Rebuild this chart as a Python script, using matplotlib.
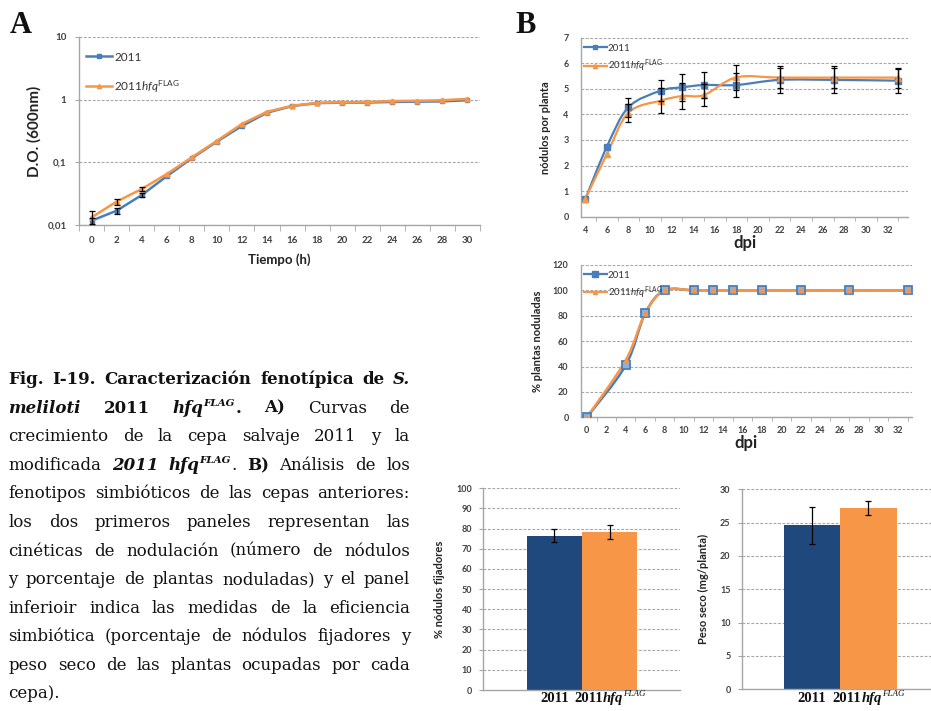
import numpy as np
import matplotlib
matplotlib.use('Agg')
import matplotlib.pyplot as plt
from matplotlib.path import Path
from matplotlib.patches import PathPatch
from matplotlib.lines import Line2D
from matplotlib.ticker import FixedLocator, NullLocator
from matplotlib.transforms import IdentityTransform

# ---------------- data ----------------
hours = [0, 2, 4, 6, 8, 10, 12, 14, 16, 18, 20, 22, 24, 26, 28, 30]
od_2011 = [0.0117, 0.0169, 0.030, 0.060, 0.116, 0.214, 0.38, 0.62, 0.79, 0.88,
           0.90, 0.90, 0.92, 0.93, 0.94, 0.98]
od_hfq = [0.0132, 0.0236, 0.0375, 0.065, 0.12, 0.22, 0.41, 0.64, 0.80, 0.89,
          0.91, 0.92, 0.95, 0.96, 0.98, 1.03]
od_err_2011 = [0.0012, 0.0018, 0.002, 0, 0, 0, 0, 0, 0, 0, 0, 0, 0, 0, 0, 0]
od_err_hfq = [0.0035, 0.0025, 0.003, 0, 0, 0, 0, 0, 0, 0, 0, 0, 0, 0, 0, 0]

dpi_nod = [4, 6, 8, 11, 13, 15, 18, 22, 27, 33]
nod_2011 = [0.69, 2.74, 4.28, 4.93, 5.06, 5.15, 5.15, 5.35, 5.35, 5.32]
nod_hfq = [0.69, 2.45, 4.07, 4.54, 4.72, 4.76, 5.45, 5.44, 5.44, 5.44]
nod_err_2011 = [0, 0, 0.37, 0.42, 0.52, 0.50, 0.46, 0.53, 0.53, 0.47]
nod_err_hfq = [0, 0, 0.35, 0.48, 0.51, 0.43, 0.48, 0.39, 0.39, 0.39]

dpi_pct = [0, 4, 6, 8, 11, 13, 15, 18, 22, 27, 33]
pct_2011 = [0, 41, 82, 100, 100, 100, 100, 100, 100, 100, 100]
pct_hfq = [0, 45, 82, 100, 100, 100, 100, 100, 100, 100, 100]

strain_labels = ['2011', '2011hfqFLAG']
fix_pct = [76.5, 78.3]
fix_err = [3.3, 3.6]
dry_wt = [24.6, 27.2]
dry_err = [2.8, 1.0]

# ---------------- style ----------------
BLUE = '#4A7EBB'
ORANGE = '#F79646'
NAVY = '#1F497D'
GRID = '#A6A6A6'
TICKC = '#404040'
SANS = 'Lato'
SERIF = 'Liberation Serif'
CAPSERIF = 'DejaVu Serif'

plt.rcParams['font.family'] = [SANS, 'DejaVu Sans']
plt.rcParams['mathtext.fontset'] = 'custom'
plt.rcParams['mathtext.rm'] = 'Lato'
plt.rcParams['mathtext.it'] = 'Lato:italic'
plt.rcParams['mathtext.bf'] = 'Lato:bold'

W, H = 931, 711
fig = plt.figure(figsize=(W / 100, H / 100), dpi=100)
fig.patch.set_facecolor('white')


def add_axes_px(left, top, right, bottom):
    return fig.add_axes([left / W, (H - bottom) / H, (right - left) / W, (bottom - top) / H])


def style_axes(ax, fs=6.5):
    for s in ['top', 'right']:
        ax.spines[s].set_visible(False)
    for s in ['left', 'bottom']:
        ax.spines[s].set_color(GRID)
        ax.spines[s].set_linewidth(1.0)
    ax.tick_params(axis='both', which='both', colors=GRID, labelcolor=TICKC, labelsize=fs)
    for lab in ax.get_xticklabels() + ax.get_yticklabels():
        lab.set_fontweight('bold')
    ax.yaxis.grid(True, which='major', color=GRID, linestyle=(0, (2.5, 1.5)), linewidth=0.8)
    ax.set_axisbelow(True)


def smooth_path(x, y):
    pts = np.column_stack([x, y]).astype(float)
    n = len(pts)
    verts = [pts[0]]
    codes = [Path.MOVETO]
    for i in range(n - 1):
        p0 = pts[i - 1] if i > 0 else pts[i]
        p1 = pts[i]
        p2 = pts[i + 1]
        p3 = pts[i + 2] if i + 2 < n else pts[i + 1]
        c1 = p1 + (p2 - p0) / 6.0
        c2 = p2 - (p3 - p1) / 6.0
        verts += [c1, c2, p2]
        codes += [Path.CURVE4] * 3
    return Path(verts, codes)


def draw_err(ax, x, y, e, **kw):
    x = np.asarray(x, float); y = np.asarray(y, float); e = np.asarray(e, float)
    m = e > 0
    ax.errorbar(x[m], y[m], yerr=e[m], fmt='none', ecolor='black', elinewidth=0.9,
                capsize=2.5, capthick=0.9, **kw)


hfq_label = r'2011$\mathit{hfq}^{\mathrm{FLAG}}$'

# ---------------- Panel A ----------------
axA = add_axes_px(79, 37, 480, 225)
axA.set_yscale('log')
axA.set_ylim(0.01, 10)
axA.set_xlim(-1, 31)
axA.yaxis.set_major_locator(FixedLocator([0.01, 0.1, 1, 10]))
axA.yaxis.set_minor_locator(NullLocator())
axA.set_yticklabels(['0,01', '0,1', '1', '10'])
axA.set_xticks(hours)
axA.set_xticklabels([str(h) for h in hours])
axA.xaxis.set_minor_locator(FixedLocator(np.arange(-1, 32, 2)))
style_axes(axA, fs=7)
axA.tick_params(axis='x', which='major', length=0, pad=8)
axA.tick_params(axis='x', which='minor', length=4, direction='out')
axA.tick_params(axis='y', which='major', length=3, pad=6)
axA.plot(hours, od_2011, color=BLUE, lw=1.8, marker='s', ms=3.5, mfc=BLUE, mec=BLUE, zorder=3)
axA.plot(hours, od_hfq, color=ORANGE, lw=1.8, marker='^', ms=3.5, mfc=ORANGE, mec=ORANGE, zorder=4)
draw_err(axA, hours, od_2011, od_err_2011, zorder=5)
draw_err(axA, hours, od_hfq, od_err_hfq, zorder=5)
axA.set_ylabel('D.O. (600nm)', fontsize=11, fontweight='bold', color='#222222', labelpad=4)
axA.set_xlabel('Tiempo (h)', fontsize=9.5, fontweight='bold', color='#222222', labelpad=6)
hA = [Line2D([], [], color=BLUE, lw=1.8, marker='s', ms=3),
      Line2D([], [], color=ORANGE, lw=1.8, marker='^', ms=3)]
legA = axA.legend(hA, ['2011', hfq_label], loc='upper left', bbox_to_anchor=(0.0, 0.96),
                  frameon=False, fontsize=8.5, handlelength=2.2, labelspacing=1.3,
                  handletextpad=0.2, borderaxespad=0.2)
for t in legA.get_texts():
    t.set_color('#333333')

# ---------------- Panel B top ----------------
axB1 = add_axes_px(581, 37.7, 908, 216.7)
axB1.set_xlim(3.6, 33.9)
axB1.set_ylim(0, 7)
axB1.set_yticks(range(0, 8))
axB1.set_xticks(range(4, 33, 2))
axB1.xaxis.set_minor_locator(FixedLocator(np.arange(5, 34, 2)))
style_axes(axB1, fs=6.5)
axB1.tick_params(axis='x', which='major', length=0, pad=7)
axB1.tick_params(axis='x', which='minor', length=3, direction='out')
axB1.tick_params(axis='y', length=0, pad=9)
axB1.add_patch(PathPatch(smooth_path(dpi_nod, nod_2011), fill=False, edgecolor=BLUE, lw=1.6, zorder=3))
axB1.add_patch(PathPatch(smooth_path(dpi_nod, nod_hfq), fill=False, edgecolor=ORANGE, lw=1.6, zorder=4))
axB1.plot(dpi_nod, nod_2011, ls='none', marker='s', ms=4, mfc=BLUE, mec=BLUE, zorder=5)
axB1.plot(dpi_nod, nod_hfq, ls='none', marker='^', ms=4, mfc=ORANGE, mec=ORANGE, zorder=6)
draw_err(axB1, dpi_nod, nod_2011, nod_err_2011, zorder=7)
draw_err(axB1, dpi_nod, nod_hfq, nod_err_hfq, zorder=7)
axB1.set_ylabel('nódulos por planta', fontsize=8, fontweight='bold', color='#222222', labelpad=9)
axB1.set_xlabel('dpi', fontsize=12, fontweight='bold', color='#222222', labelpad=0)
hB = [Line2D([], [], color=BLUE, lw=1.6, marker='s', ms=3),
      Line2D([], [], color=ORANGE, lw=1.6, marker='^', ms=3)]
legB1 = axB1.legend(hB, ['2011', hfq_label], loc='upper left', bbox_to_anchor=(-0.01, 1.0),
                    frameon=False, fontsize=7, handlelength=2.4, labelspacing=0.55,
                    handletextpad=0.1, borderaxespad=0.2)
for t in legB1.get_texts():
    t.set_color('#333333')

# ---------------- Panel B middle ----------------
axB2 = add_axes_px(581, 265, 911.7, 417.3)
axB2.set_xlim(-0.6, 33.4)
axB2.set_ylim(0, 120)
axB2.set_yticks(range(0, 121, 20))
axB2.set_xticks(range(0, 33, 2))
axB2.xaxis.set_minor_locator(FixedLocator(np.arange(1, 34, 2)))
style_axes(axB2, fs=6.5)
axB2.tick_params(axis='x', which='major', length=0, pad=6)
axB2.tick_params(axis='x', which='minor', length=3, direction='out')
axB2.tick_params(axis='y', length=0, pad=9)
axB2.add_patch(PathPatch(smooth_path(dpi_pct, pct_2011), fill=False, edgecolor=BLUE, lw=1.8, zorder=3))
axB2.add_patch(PathPatch(smooth_path(dpi_pct, pct_hfq), fill=False, edgecolor=ORANGE, lw=1.8, zorder=4))
axB2.plot(dpi_pct, pct_2011, ls='none', marker='s', ms=6, mfc='#8DB0DC', mec=BLUE, mew=1.3, zorder=5)
axB2.plot(dpi_pct, pct_hfq, ls='none', marker='^', ms=3.5, mfc=ORANGE, mec=ORANGE, zorder=6)
axB2.set_ylabel('% plantas noduladas', fontsize=8, fontweight='bold', color='#222222', labelpad=7)
axB2.set_xlabel('dpi', fontsize=12, fontweight='bold', color='#222222', labelpad=0)
hB2 = [Line2D([], [], color=BLUE, lw=1.6, marker='s', ms=4.5),
       Line2D([], [], color=ORANGE, lw=1.6, marker='^', ms=3)]
legB2 = axB2.legend(hB2, ['2011', hfq_label], loc='upper left', bbox_to_anchor=(-0.01, 1.0),
                    frameon=False, fontsize=7, handlelength=2.4, labelspacing=0.45,
                    handletextpad=0.1, borderaxespad=0.2)
for t in legB2.get_texts():
    t.set_color('#333333')

# ---------------- Bar charts ----------------
xb = [0, 1]
axC = add_axes_px(483.3, 488.3, 680, 690)
axC.set_xlim(-1.28, 2.27)
axC.set_ylim(0, 100)
axC.set_yticks(range(0, 101, 10))
axC.set_xticks(xb)
axC.set_xticklabels(['', ''])
style_axes(axC, fs=6.5)
axC.tick_params(axis='x', length=0)
axC.tick_params(axis='y', length=3, pad=5)
axC.bar(xb, fix_pct, width=1.0, color=[NAVY, ORANGE], zorder=2)
axC.errorbar(xb, fix_pct, yerr=fix_err, fmt='none', ecolor='black', elinewidth=0.9,
             capsize=2.5, capthick=0.9, zorder=3)
axC.set_ylabel('% nódulos fijadores', fontsize=8, fontweight='bold', color='#222222', labelpad=8)

axD = add_axes_px(741.7, 489.3, 931, 689.3)
axD.set_xlim(-1.25, 2.11)
axD.set_ylim(0, 30)
axD.set_yticks(range(0, 31, 5))
axD.set_xticks(xb)
axD.set_xticklabels(['', ''])
style_axes(axD, fs=6.5)
axD.tick_params(axis='x', length=0)
axD.tick_params(axis='y', length=3, pad=5)
axD.bar(xb, dry_wt, width=1.0, color=[NAVY, ORANGE], zorder=2)
axD.errorbar(xb, dry_wt, yerr=dry_err, fmt='none', ecolor='black', elinewidth=0.9,
             capsize=2.5, capthick=0.9, zorder=3)
axD.set_ylabel('Peso seco (mg/planta)', fontsize=8, fontweight='bold', color='#222222', labelpad=8)

# ---------------- rich text helpers ----------------
renderer = fig.canvas.get_renderer()


def make_runs(runs, size, family=SERIF):
    arts = []
    for (txt, weight, style, sup) in runs:
        fs = size * 0.62 if sup else size
        t = fig.text(0, 0, txt, fontsize=fs, fontweight=weight, fontstyle=style,
                     family=family, transform=IdentityTransform(), va='baseline',
                     ha='left', color='#111111')
        w = t.get_window_extent(renderer).width
        arts.append((t, w, sup))
    return arts


def place_runs(arts, x, y_base, size):
    for t, w, sup in arts:
        dy = size * 0.42 * 100 / 72 if sup else 0
        t.set_position((x, y_base + dy))
        x += w
    return x


def centered_label(ax, xd, runs, y_top_px, size):
    arts = make_runs(runs, size)
    total = sum(a[1] for a in arts)
    xc = ax.transData.transform((xd, 0))[0]
    place_runs(arts, xc - total / 2, H - y_top_px, size)


# bar chart category labels (rich text: italic gene name + superscript)
lab1 = [('2011', 'bold', 'normal', False)]
lab2 = [('2011', 'bold', 'normal', False), ('hfq', 'bold', 'italic', False),
        ('FLAG', 'normal', 'italic', True)]
for ax in (axC, axD):
    centered_label(ax, xb[0], lab1, 702, 10.5)
    centered_label(ax, xb[1], lab2, 702, 10.5)

# panel letters
fig.text(10 / W, (H - 33) / H, 'A', fontsize=22, fontweight='bold', family=SERIF, color='#111111')
fig.text(515 / W, (H - 33) / H, 'B', fontsize=22, fontweight='bold', family=SERIF, color='#111111')

# ---------------- caption (justified) ----------------
B, I, R = 'bold', 'italic', 'normal'


def words(s, weight=R, style=R):
    return [[(w, weight, style, False)] for w in s.split()]


cap_lines = [
    words('Fig. I-19. Caracterización fenotípica de', B) + [[('S.', B, I, False)]],
    [[('meliloti', B, I, False)], [('2011', B, R, False)],
     [('hfq', B, I, False), ('FLAG', B, I, True), ('.', B, R, False)],
     [('A)', B, R, False)]] + words('Curvas de'),
    words('crecimiento de la cepa salvaje 2011 y la'),
    words('modificada') + [[('2011', B, I, False)],
                            [('hfq', B, I, False), ('FLAG', B, I, True), ('.', R, R, False)],
                            [('B)', B, R, False)]] + words('Análisis de los'),
    words('fenotipos simbióticos de las cepas anteriores:'),
    words('los dos primeros paneles representan las'),
    words('cinéticas de nodulación (número de nódulos'),
    words('y porcentaje de plantas noduladas) y el panel'),
    words('inferioir indica las medidas de la eficiencia'),
    words('simbiótica (porcentaje de nódulos fijadores y'),
    words('peso seco de las plantas ocupadas por cada'),
    words('cepa).'),
]

x0, x1 = 8.5, 410.0
base0, dline = 384.3, 28.55


def space_width(size):
    t = fig.text(0, 0, 'a a', fontsize=size, family=CAPSERIF, transform=IdentityTransform())
    w1 = t.get_window_extent(renderer).width
    t.set_text('aa')
    w2 = t.get_window_extent(renderer).width
    t.remove()
    return w1 - w2


def natural_width(line, size):
    tot = 0.0
    for wd in line:
        for (txt, weight, style, sup) in wd:
            fs = size * 0.62 if sup else size
            t = fig.text(0, 0, txt, fontsize=fs, fontweight=weight, fontstyle=style,
                         family=CAPSERIF, transform=IdentityTransform())
            tot += t.get_window_extent(renderer).width
            t.remove()
    return tot + space_width(size) * 0.85 * (len(line) - 1)


CAP_SIZE = 12.0
while CAP_SIZE > 9:
    if max(natural_width(l, CAP_SIZE) for l in cap_lines[:-1]) <= (x1 - x0):
        break
    CAP_SIZE -= 0.1

sw = space_width(CAP_SIZE)
for li, line in enumerate(cap_lines):
    items = [make_runs(wd, CAP_SIZE, family=CAPSERIF) for wd in line]
    widths = [sum(a[1] for a in it) for it in items]
    if li < len(cap_lines) - 1 and len(items) > 1:
        gap = (x1 - x0 - sum(widths)) / (len(items) - 1)
    else:
        gap = sw
    x = x0
    yb = H - (base0 + li * dline)
    for it, w in zip(items, widths):
        place_runs(it, x, yb, CAP_SIZE)
        x += w + gap

fig.savefig('out.png', dpi=100, facecolor='white')
